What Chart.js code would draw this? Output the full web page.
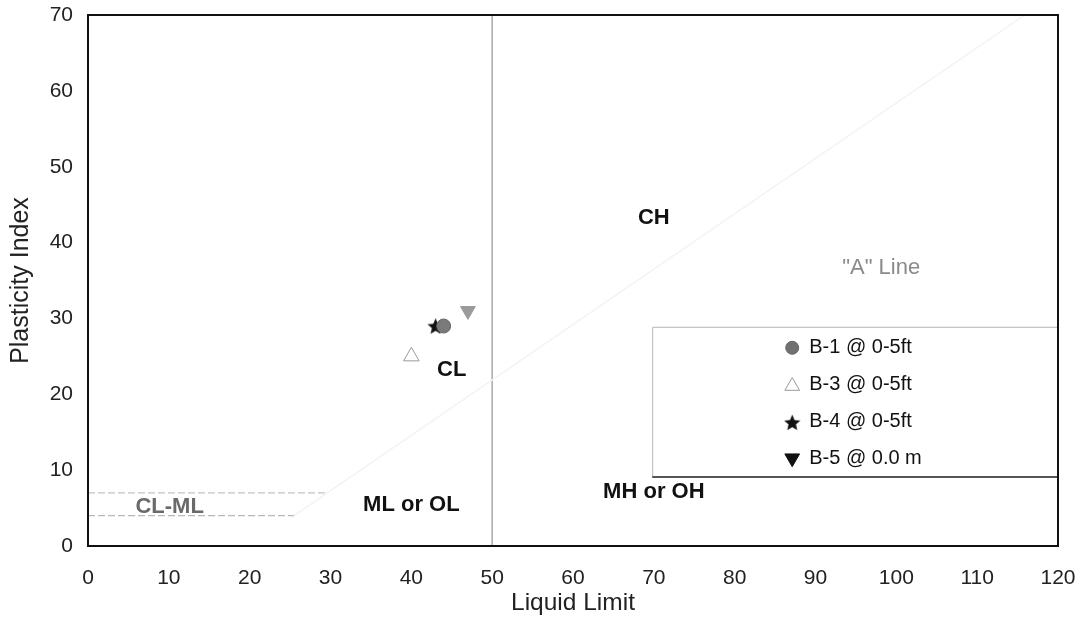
<!DOCTYPE html>
<html>
<head>
<meta charset="utf-8">
<script src="https://cdn.jsdelivr.net/npm/chart.js@4.4.0/dist/chart.umd.min.js"></script>
<style>
  html, body { margin: 0; padding: 0; background: #fff; }
  #wrap { width: 1078px; height: 618px; }
</style>
</head>
<body>
<div id="wrap"><canvas id="chart"></canvas></div>
<script>
// samples
const sampleNames = ['B-1 @ 0-5ft', 'B-3 @ 0-5ft', 'B-4 @ 0-5ft', 'B-5 @ 0.0 m'];
const liquidLimit = [44, 40, 43, 47];
const plasticityIndex = [29, 25, 29, 31];

// chart reference lines
const aLineLL = [25.5, 115.9];
const aLinePI = [4, 70];
const clmlUpperLL = [0, 29.6];
const clmlUpperPI = [7, 7];
const clmlLowerLL = [0, 25.5];
const clmlLowerPI = [4, 4];
const dividerLL = [50, 50];
const dividerPI = [0, 70];

// zone labels
const zoneLabels = ['CH', 'CL', 'ML or OL', 'MH or OH', 'CL-ML', '"A" Line'];
const zoneLabelLL = [70, 45, 40, 70, 10.1, 93.3];
const zoneLabelPI = [43.2, 23.2, 5.4, 7.1, 5.1, 36.6];

// ticks
const xTickValues = [0, 10, 20, 30, 40, 50, 60, 70, 80, 90, 100, 110, 120];
const yTickValues = [0, 10, 20, 30, 40, 50, 60, 70];

const FONT = '"Liberation Sans", Arial, Helvetica, sans-serif';

function pairs(xs, ys) {
    return xs.map((x, i) => ({ x: x, y: ys[i] }));
}

function makeStar(size, color) {
    const c = document.createElement('canvas');
    c.width = size;
    c.height = size;
    const g = c.getContext('2d');
    const cx = size / 2, cy = size / 2 + 0.8;
    const ro = size / 2, ri = ro * 0.46;
    g.beginPath();
    for (let k = 0; k < 10; k++) {
        const r = k % 2 === 0 ? ro : ri;
        const a = -Math.PI / 2 + k * Math.PI / 5;
        const px = cx + r * Math.cos(a), py = cy + r * Math.sin(a);
        if (k === 0) g.moveTo(px, py); else g.lineTo(px, py);
    }
    g.closePath();
    g.fillStyle = color;
    g.fill();
    return c;
}

const starImg = makeStar(17, '#111');

const markerStyles = [
    { pointStyle: 'circle', radius: 7, bg: '#7a7a7a', border: '#666', width: 1, rotation: 0, legendBg: '#707070' },
    { pointStyle: 'triangle', radius: 9, bg: 'rgba(255,255,255,0)', border: '#9a9a9a', width: 1, rotation: 0, legendBg: 'rgba(255,255,255,0)' },
    { pointStyle: starImg, radius: 8, bg: '#111', border: '#111', width: 1, rotation: 0, legendBg: '#111' },
    { pointStyle: 'triangle', radius: 8.5, bg: '#9a9a9a', border: '#9a9a9a', width: 1, rotation: 180, legendBg: '#111' }
];

const lineDataset = (xs, ys, color, width, dash) => ({
    type: 'scatter',
    data: pairs(xs, ys),
    showLine: true,
    borderColor: color,
    borderWidth: width,
    borderDash: dash || [],
    pointRadius: 0,
    fill: false,
    order: 10
});

const sampleDatasets = sampleNames.map((name, i) => ({
    type: 'scatter',
    label: name,
    data: [{ x: liquidLimit[i], y: plasticityIndex[i] }],
    pointStyle: markerStyles[i].pointStyle,
    pointRadius: markerStyles[i].radius,
    pointRotation: markerStyles[i].rotation,
    backgroundColor: markerStyles[i].bg,
    borderColor: markerStyles[i].border,
    borderWidth: markerStyles[i].width,
    order: 1
}));

const framePlugin = {
    id: 'frame',
    afterDraw(chart) {
        const { ctx, chartArea: a } = chart;
        ctx.save();
        ctx.strokeStyle = '#111';
        ctx.lineWidth = 2;
        ctx.strokeRect(a.left, a.top, a.right - a.left, a.bottom - a.top);
        ctx.restore();
    }
};

const zoneLabelPlugin = {
    id: 'zoneLabels',
    afterDatasetsDraw(chart) {
        const { ctx, scales: { x, y } } = chart;
        ctx.save();
        ctx.textBaseline = 'middle';
        zoneLabels.forEach((t, i) => {
            const px = x.getPixelForValue(zoneLabelLL[i]);
            const py = y.getPixelForValue(zoneLabelPI[i]);
            if (t.indexOf('Line') >= 0) {
                ctx.font = '22px ' + FONT;
                ctx.fillStyle = '#8a8a8a';
                ctx.textAlign = 'left';
            } else if (t === 'CL-ML') {
                ctx.font = 'bold 22px ' + FONT;
                ctx.fillStyle = '#6a6a6a';
                ctx.textAlign = 'center';
            } else {
                ctx.font = 'bold 22px ' + FONT;
                ctx.fillStyle = '#111';
                ctx.textAlign = 'center';
            }
            ctx.fillText(t, px, py);
        });
        ctx.restore();
    }
};

const legendPlugin = {
    id: 'boxLegend',
    afterDatasetsDraw(chart) {
        const { ctx, scales: { x, y } } = chart;
        const left = x.getPixelForValue(69.8);
        const right = x.getPixelForValue(120);
        const top = y.getPixelForValue(28.9);
        const bottom = y.getPixelForValue(9.1);
        ctx.save();
        ctx.fillStyle = '#fff';
        ctx.fillRect(left, top, right - left, bottom - top);
        ctx.strokeStyle = '#b5b5b5';
        ctx.lineWidth = 1;
        ctx.beginPath();
        ctx.moveTo(left + 0.5, bottom);
        ctx.lineTo(left + 0.5, top + 0.5);
        ctx.lineTo(right, top + 0.5);
        ctx.stroke();
        ctx.strokeStyle = '#555';
        ctx.lineWidth = 2;
        ctx.beginPath();
        ctx.moveTo(left, bottom);
        ctx.lineTo(right, bottom);
        ctx.stroke();

        const mx = left + 140;
        const tx = left + 157;
        const rowTop = top + 21;
        const rowGap = 36.8;
        ctx.font = '20px ' + FONT;
        ctx.fillStyle = '#111';
        ctx.textAlign = 'left';
        ctx.textBaseline = 'middle';
        sampleNames.forEach((name, i) => {
            const cy = rowTop + i * rowGap;
            const st = markerStyles[i];
            ctx.save();
            ctx.fillStyle = st.legendBg;
            ctx.strokeStyle = i === 3 ? '#111' : st.border;
            ctx.lineWidth = st.width;
            Chart.helpers.drawPoint(ctx, {
                pointStyle: st.pointStyle,
                radius: i === 0 ? 6.5 : 8.5,
                rotation: st.rotation,
                borderWidth: st.width
            }, mx, cy + (i === 1 ? 1.5 : i === 2 ? 1 : 0));
            ctx.restore();
            ctx.fillStyle = '#111';
            ctx.fillText(name, tx, cy);
        });
        ctx.restore();
    }
};

const ctx = document.getElementById('chart').getContext('2d');
const chart = new Chart(ctx, {
    type: 'scatter',
    data: {
        datasets: [
            lineDataset(aLineLL, aLinePI, '#f3f3f3', 1.5),
            lineDataset(clmlUpperLL, clmlUpperPI, '#c4c4c4', 1.2, [7, 3]),
            lineDataset(clmlLowerLL, clmlLowerPI, '#b8b8b8', 1.2, [7, 3]),
            lineDataset(dividerLL, dividerPI, '#a8a8a8', 1.5),
            ...sampleDatasets
        ]
    },
    options: {
        responsive: true,
        maintainAspectRatio: false,
        animation: false,
        layout: { padding: { top: 15, right: 20, left: 0, bottom: 0 } },
        plugins: {
            legend: { display: false },
            tooltip: { enabled: false }
        },
        scales: {
            x: {
                type: 'linear',
                min: 0,
                max: 120,
                afterBuildTicks: s => { s.ticks = xTickValues.map(v => ({ value: v })); },
                afterFit: s => {
                    s.height = 72;
                    s.paddingLeft = 0;
                    s.paddingRight = 0;
                },
                grid: { display: false, drawTicks: false },
                border: { display: false },
                ticks: { color: '#222', padding: 20, font: { family: FONT, size: 21 }, maxRotation: 0 },
                title: { display: true, text: 'Liquid Limit', color: '#222', font: { family: FONT, size: 24.5 }, padding: { top: 0, bottom: 0 } }
            },
            y: {
                type: 'linear',
                min: 0,
                max: 70,
                afterBuildTicks: s => { s.ticks = yTickValues.map(v => ({ value: v })); },
                afterFit: s => {
                    s.width = 88;
                    s.paddingTop = 0;
                    s.paddingBottom = 0;
                },
                grid: { display: false, drawTicks: false },
                border: { display: false },
                ticks: { color: '#222', padding: 15, font: { family: FONT, size: 21 } },
                title: { display: true, text: 'Plasticity Index', color: '#222', font: { family: FONT, size: 25 }, padding: { top: 6, bottom: 0 } }
            }
        }
    },
    plugins: [framePlugin, zoneLabelPlugin, legendPlugin]
});
</script>
</body>
</html>
